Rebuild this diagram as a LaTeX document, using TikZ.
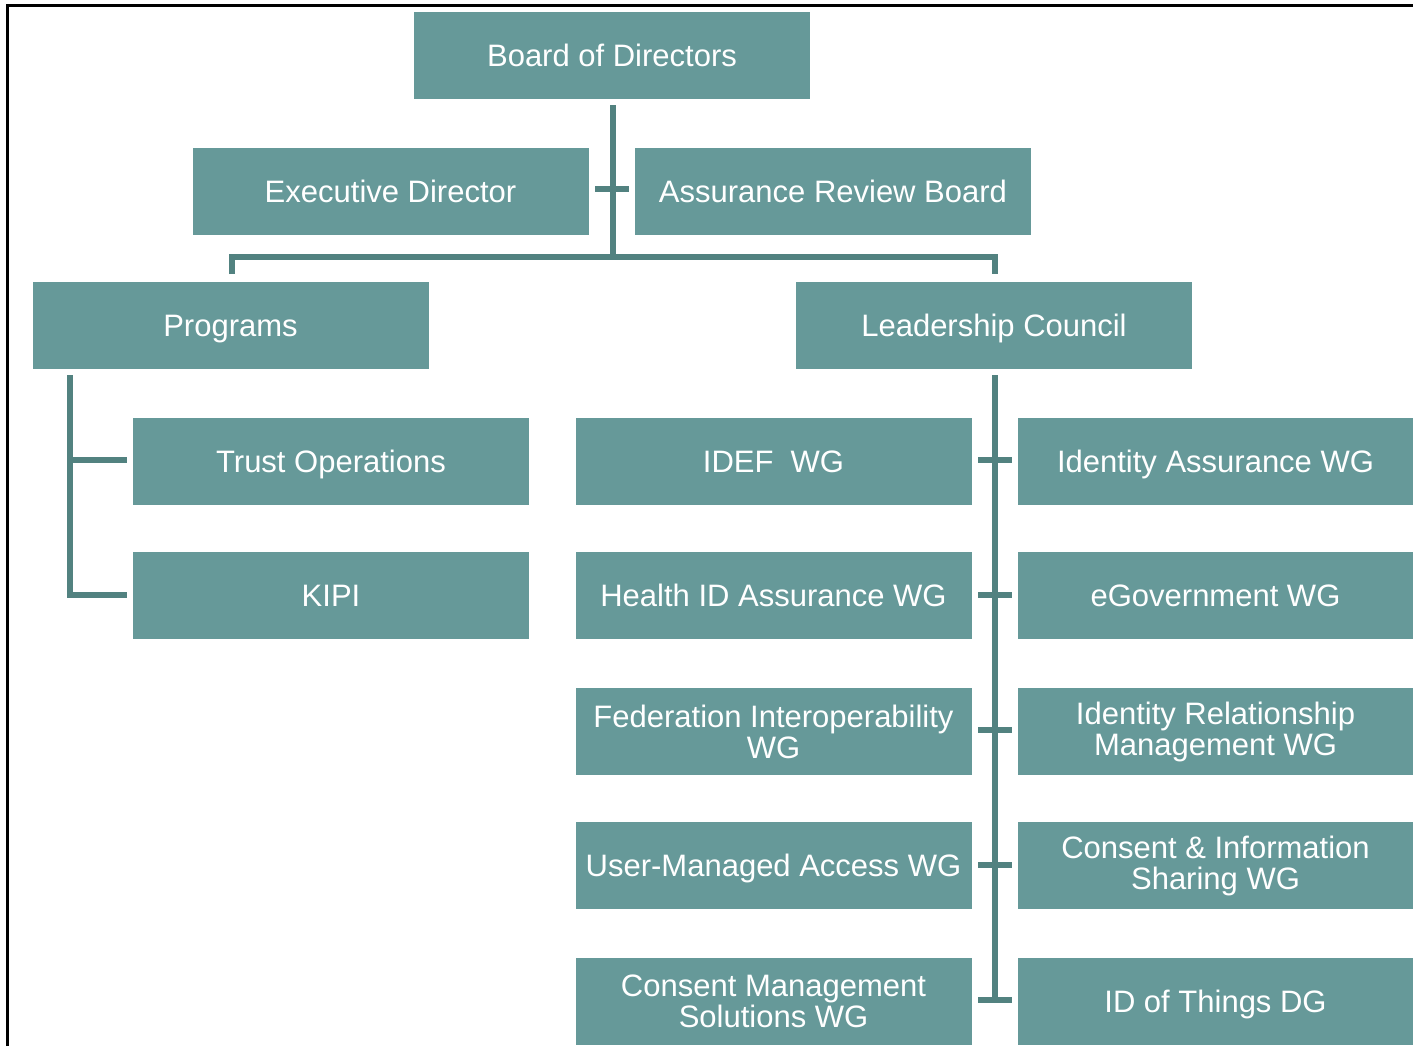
\documentclass[tikz,border=0pt]{standalone}
\usepackage{fontspec}
\setmainfont{Liberation Sans}
\definecolor{boxc}{RGB}{102,153,153}
\definecolor{linec}{RGB}{82,130,128}
\begin{document}
\begin{tikzpicture}[x=0.5pt,y=-0.5pt,
  orgbox/.style={fill=boxc, text=white, minimum width=198pt, minimum height=43.5pt,
    inner sep=0pt, align=center, font=\fontsize{15.5}{15.5}\selectfont},
  onebox/.style={orgbox, text height=11.1pt, text depth=0pt},
  conn/.style={draw=linec, line width=3pt, line join=miter},
  frame/.style={draw=black, line width=1.5pt}]
\useasboundingbox (0,0) rectangle (1413,1046);
\fill[white] (0,0) rectangle (1413,1046);
\draw[frame] (7,1046) -- (7,5.5) -- (1413,5.5);

% nodes
\node[onebox] (board) at (612,55) {Board of Directors};
\node[onebox] (exec) at (390.5,191.5) {Executive Director};
\node[onebox] (arb) at (833,191.5) {Assurance Review Board};
\node[onebox] (prog) at (230.5,325) {Programs};
\node[onebox] (lead) at (994,325) {Leadership Council};
\node[onebox] (trust) at (331,461.5) {Trust Operations};
\node[onebox] (kipi) at (331,595.5) {KIPI};
\node[onebox] (idef) at (773.5,461.5) {IDEF\ \ WG};
\node[onebox] (health) at (773.5,595.5) {Health ID Assurance WG};
\node[orgbox] (fed) at (773.5,731.5) {Federation Interoperability\\WG};
\node[onebox] (uma) at (773.5,865.5) {User-Managed Access WG};
\node[orgbox] (cms) at (773.5,1001.5) {Consent Management\\Solutions WG};
\node[onebox] (ia) at (1215.5,461.5) {Identity Assurance WG};
\node[onebox] (egov) at (1215.5,595.5) {eGovernment WG};
\node[orgbox] (irm) at (1215.5,731.5) {Identity Relationship\\Management WG};
\node[orgbox] (cis) at (1215.5,865.5) {Consent \& Information\\Sharing WG};
\node[onebox] (iot) at (1215.5,1001.5) {ID of Things DG};

% junction coordinates
\coordinate (bt) at (613,105);
\coordinate (bj) at (613,257);
\coordinate (pj) at (232,257);
\coordinate (lj) at (995,257);
\coordinate (pt) at (232,274);
\coordinate (lt) at (995,274);
\coordinate (pl0) at (70,375);
\coordinate (pl1) at (70,460);
\coordinate (pl2) at (70,595);
\coordinate (ll0) at (995,375);
\coordinate (ll5) at (995,1000);

% connectors
\draw[conn] (bt) -- (bj);
\draw[conn] (595,189) -- (629,189);
\draw[conn] (pt) -- (pj) -- (lj) -- (lt);
\draw[conn] (pl0) -- (pl2) -- (127,595);
\draw[conn] (pl1) -- (127,460);
\draw[conn] (ll0) -- (ll5);
\foreach \yy in {460,595,730,865,1000}{
  \draw[conn] (978,\yy) -- (1012,\yy);
}
\end{tikzpicture}
\end{document}
